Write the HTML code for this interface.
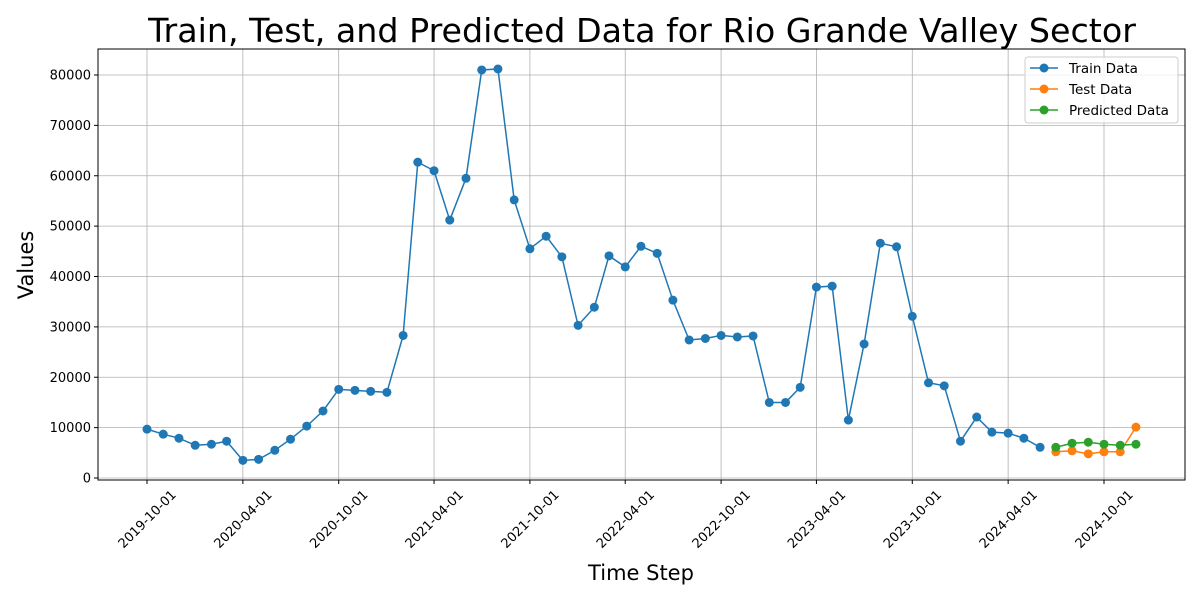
<!DOCTYPE html>
<html><head><meta charset="utf-8"><style>body{margin:0;background:#fff}svg{display:block;font-family:"DejaVu Sans","Liberation Sans",sans-serif}</style></head>
<body>
<svg id="chart" width="1200" height="600" viewBox="0 0 1200 600" xmlns="http://www.w3.org/2000/svg">
<text x="642" y="42" font-size="33.3" text-anchor="middle">Train, Test, and Predicted Data for Rio Grande Valley Sector</text>
<text x="641" y="580" font-size="21" text-anchor="middle">Time Step</text>
<text x="33" y="265" font-size="21" text-anchor="middle" transform="rotate(-90 33 265)">Values</text>
<g id="grid"></g><g id="axes"></g><g id="series"></g>
<g>
<rect x="1025" y="57" width="153" height="66" fill="#fff" fill-opacity="0.8" stroke="#ccc" rx="3"/>
<line x1="1030" y1="68" x2="1058" y2="68" stroke="#1f77b4" stroke-width="1.5"/><circle cx="1044" cy="68" r="4.5" fill="#1f77b4"/>
<text x="1069" y="73" font-size="13.5">Train Data</text>
<line x1="1030" y1="89" x2="1058" y2="89" stroke="#ff7f0e" stroke-width="1.5"/><circle cx="1044" cy="89" r="4.5" fill="#ff7f0e"/>
<text x="1069" y="94" font-size="13.5">Test Data</text>
<line x1="1030" y1="110" x2="1058" y2="110" stroke="#2ca02c" stroke-width="1.5"/><circle cx="1044" cy="110" r="4.5" fill="#2ca02c"/>
<text x="1069" y="115" font-size="13.5">Predicted Data</text>
</g>
</svg>
<script>
const trainValues=[9700,8700,7900,6500,6700,7300,3500,3700,5500,7700,10300,13300,17600,17400,17200,17000,28300,62700,61000,51200,59500,81000,81200,55200,45500,48000,43900,30300,33900,44100,41900,46000,44600,35300,27400,27700,28300,28000,28200,15000,15000,18000,37900,38100,11500,26600,46600,45900,32100,18900,18300,7300,12100,9100,8900,7900,6100];
const testValues=[5200,5400,4800,5200,5200,10100];
const predValues=[6100,6900,7100,6700,6500,6700];
const yTicks=[0,10000,20000,30000,40000,50000,60000,70000,80000];
const xTickLabels=["2019-10-01","2020-04-01","2020-10-01","2021-04-01","2021-10-01","2022-04-01","2022-10-01","2023-04-01","2023-10-01","2024-04-01","2024-10-01"];
const NS="http://www.w3.org/2000/svg";
const L=98,R=1185,T=49,B=480;
const t0=Date.UTC(2019,9,1),t1=Date.UTC(2024,9,1);
function x(t){return 147+(t-t0)/(t1-t0)*(1104-147);}
function y(v){return 478-v*(478-75)/80000;}
function monthDate(startY,startM,i){return Date.UTC(startY,startM+i,1);}
function el(tag,attrs,parent){const e=document.createElementNS(NS,tag);for(const k in attrs)e.setAttribute(k,attrs[k]);parent.appendChild(e);return e;}
const grid=document.getElementById('grid'),axes=document.getElementById('axes'),series=document.getElementById('series');
yTicks.forEach(v=>{const yy=y(v);
 const g=el('line',{x1:L,x2:R,y1:yy,y2:yy,stroke:'#b0b0b0','stroke-width':0.8},grid);
 
 el('line',{x1:L-4,x2:L,y1:yy,y2:yy,stroke:'#000'},axes);
 const t=el('text',{x:L-7,y:yy+4.5,'font-size':13,'text-anchor':'end'},axes);t.textContent=v;
 });
xTickLabels.forEach(s=>{const p=s.split('-');const xx=x(Date.UTC(+p[0],+p[1]-1,1));
 const g=el('line',{x1:xx,x2:xx,y1:T,y2:B,stroke:'#b0b0b0','stroke-width':0.8},grid);
 
 el('line',{x1:xx,x2:xx,y1:B,y2:B+4,stroke:'#000'},axes);
 const cy=519;
 const t=el('text',{x:xx,y:cy+4.5,'font-size':13,'text-anchor':'middle',transform:`rotate(-45 ${xx} ${cy})`},axes);t.textContent=s;
 });
const fr=el('rect',{x:L,y:T,width:R-L,height:B-T,fill:'none',stroke:'#000','stroke-width':1},axes);

function draw(vals,sy,sm,color,name){
 const pts=vals.map((v,i)=>[x(monthDate(sy,sm,i)),y(v)]);
 const pl=el('polyline',{points:pts.map(p=>p.join(',')).join(' '),fill:'none',stroke:color,'stroke-width':1.5},series);
 
 pts.forEach(p=>{const c=el('circle',{cx:p[0],cy:p[1],r:4.5,fill:color},series);
  });
}
draw(trainValues,2019,9,'#1f77b4','train');
draw(testValues,2024,6,'#ff7f0e','test');
draw(predValues,2024,6,'#2ca02c','predicted');
</script>
</body></html>
